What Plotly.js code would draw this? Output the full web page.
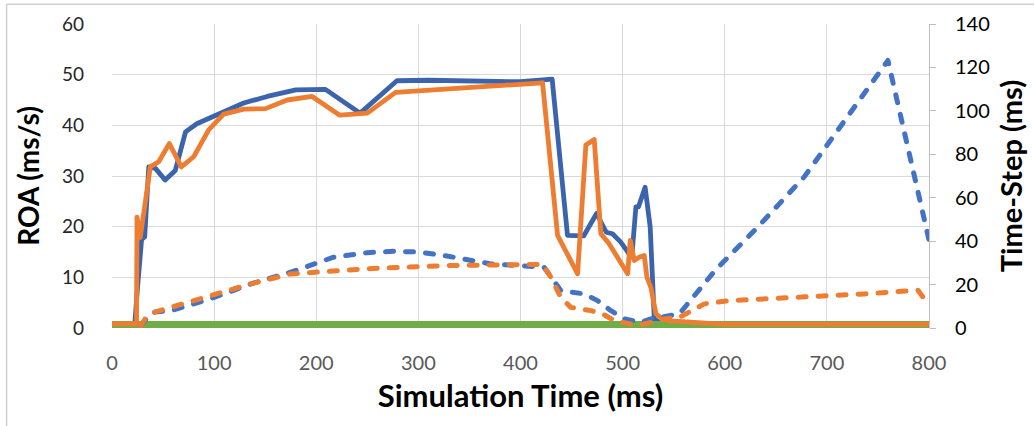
<!DOCTYPE html>
<html><head><meta charset="utf-8">
<script src="https://cdn.plot.ly/plotly-3.0.1.min.js"></script>
<style>
html,body{margin:0;padding:0;background:#fff;}
#chart{width:1034px;height:426px;}
</style></head><body><div id="chart"></div>
<script>
// ROA (left axis, ms/s) - blue solid series
const blueSolidTime = [0, 22, 25, 29, 32, 36, 42.5, 52, 62, 72, 83, 96, 111, 129, 152, 180, 209, 243, 279, 310, 400, 431, 446, 462, 474.5, 484, 490, 498, 506.5, 509, 513, 515.5, 522, 527, 531, 540, 600, 700, 800];
const blueSolidROA  = [0, 0, 8, 17.5, 18, 31.8, 31.5, 29.2, 31.1, 38.7, 40.3, 41.4, 42.9, 44.4, 45.7, 47, 47.1, 42.4, 48.8, 48.9, 48.6, 49.1, 18.3, 18.2, 22.6, 18.9, 18.6, 17, 14.6, 14, 23.9, 23.9, 27.8, 19.9, 1.8, 0.5, 0.5, 0.5, 0.5];

// ROA (left axis, ms/s) - orange solid series
const orangeSolidTime = [0, 24, 24.5, 27.7, 37.5, 45.7, 56.2, 67.9, 80, 94.7, 109.4, 129, 150.3, 171.6, 196, 223, 250, 277.7, 421.6, 436.3, 455.9, 464, 472.2, 478.7, 486.9, 504.9, 507.5, 511.4, 516.5, 521.2, 523.8, 527.7, 532.6, 539, 547.4, 600, 700, 800];
const orangeSolidROA  = [0.8, 0.8, 21.9, 17.9, 31.8, 32.8, 36.4, 31.8, 33.8, 39.1, 42.2, 43.2, 43.3, 45, 45.7, 42, 42.4, 46.5, 48.4, 18.3, 10.7, 36.1, 37.2, 18.6, 16.6, 10.7, 17.3, 13.3, 14, 14.3, 10.0, 8, 2.8, 1.8, 1.4, 0.7, 0.7, 0.7];

// Green reference series (left axis)
const greenTime = [0, 800];
const greenROA  = [0.6, 0.6];

// Time-Step (right axis, ms) - blue dashed series
const blueDashTime = [28, 32.6, 37.5, 42.5, 58.8, 96, 136, 175, 217, 250, 276, 300, 325, 370, 402, 423, 439.5, 452.6, 462.4, 475.5, 488.5, 501.6, 518, 527.7, 555.6, 590.5, 632.4, 677.8, 719.7, 759.8, 800];
const blueDashStep = [1, 4, 6.5, 7.4, 8.1, 13.4, 20.3, 25.7, 32.6, 34.7, 35.3, 35, 33.4, 29.6, 28.5, 28, 17.2, 16.5, 15.7, 12.6, 8, 4.2, 2.6, 4.2, 6.5, 26.5, 46.5, 69.6, 96.6, 123.2, 40.5];

// Time-Step (right axis, ms) - orange dashed series
const orangeDashTime = [28, 32.6, 42.5, 58.8, 78.4, 111, 135.6, 174.8, 217.3, 250, 331.7, 410, 421.6, 429.7, 439.5, 449.3, 468.9, 480.4, 491.8, 508.1, 518, 527.7, 540.8, 555.6, 580, 604.5, 649.9, 702.2, 737.2, 789.2, 794, 800];
const orangeDashStep = [1, 4.3, 7.4, 9.7, 12, 16.6, 20.3, 24.9, 26.5, 27.3, 28.8, 29.6, 29.3, 23.4, 14.1, 9.5, 8, 6.5, 3.4, 1.8, 1.5, 2.6, 4.2, 4.9, 11.1, 12.6, 13.4, 14.9, 15.7, 17.4, 14.3, 10.9];

const FONT = 'Lato, "Open Sans", sans-serif';
const BLUE_DARK = '#3b64ad', BLUE = '#4472c4', ORANGE = '#ed7d31', GREEN = '#70ad47';

const traces = [
  {x: blueSolidTime, y: blueSolidROA, type: 'scatter', mode: 'lines', name: 'ROA 1',
   line: {color: BLUE_DARK, width: 4.8}, yaxis: 'y'},
  {x: greenTime, y: greenROA, type: 'scatter', mode: 'lines', name: 'Reference',
   line: {color: GREEN, width: 8}, yaxis: 'y'},
  {x: orangeSolidTime, y: orangeSolidROA, type: 'scatter', mode: 'lines', name: 'ROA 2',
   line: {color: ORANGE, width: 4.8}, yaxis: 'y'},
  {x: blueDashTime, y: blueDashStep, type: 'scatter', mode: 'lines', name: 'Time-Step 1',
   line: {color: BLUE, width: 5, dash: '8px,12px'}, yaxis: 'y2'},
  {x: orangeDashTime, y: orangeDashStep, type: 'scatter', mode: 'lines', name: 'Time-Step 2',
   line: {color: ORANGE, width: 5, dash: '8px,12px'}, yaxis: 'y2'}
];

const layout = {
  width: 1034, height: 426,
  margin: {l: 112, r: 105, t: 24, b: 98, pad: 0},
  paper_bgcolor: '#ffffff', plot_bgcolor: '#ffffff',
  showlegend: false,
  font: {family: FONT},
  xaxis: {
    range: [0, 800], dtick: 100, tick0: 0,
    showgrid: true, gridcolor: '#d9d9d9', gridwidth: 1,
    zeroline: false, showline: false, ticks: '',
    tickfont: {family: FONT, size: 20, color: '#595959'},
    ticklabelstandoff: 21,
    title: {text: 'Simulation Time (ms)', standoff: 12,
            font: {family: FONT, size: 31, color: '#000000', weight: 'bold'}}
  },
  yaxis: {
    range: [0, 60], dtick: 10, tick0: 0,
    showgrid: true, gridcolor: '#d9d9d9', gridwidth: 1,
    zeroline: false, showline: false, ticks: '',
    tickfont: {family: FONT, size: 19, color: '#262626'},
    ticklabelstandoff: 27,
    title: {text: 'ROA (ms/s)', standoff: 14,
            font: {family: FONT, size: 28, color: '#000000', weight: 'bold'}}
  },
  yaxis2: {
    range: [0, 140], dtick: 20, tick0: 0,
    overlaying: 'y', side: 'right',
    showgrid: false, zeroline: false,
    showline: true, linecolor: '#bfbfbf', linewidth: 1,
    ticks: 'outside', ticklen: 6, tickcolor: '#bfbfbf', tickwidth: 1,
    tickfont: {family: FONT, size: 20, color: '#000000'},
    ticklabelstandoff: 15,
    title: {text: 'Time-Step (ms)', standoff: 12,
            font: {family: FONT, size: 29, color: '#000000', weight: 'bold'}}
  },
  shapes: [
    {type: 'line', xref: 'paper', yref: 'paper', x0: -0.129, x1: 1.2, y0: 1.065, y1: 1.065,
     line: {color: '#d0d0d0', width: 1.5}, layer: 'below'},
    {type: 'line', xref: 'paper', yref: 'paper', x0: -0.129, x1: -0.129, y0: 1.065, y1: -0.4,
     line: {color: '#d0d0d0', width: 1.5}, layer: 'below'}
  ]
};

Plotly.newPlot('chart', traces, layout, {displayModeBar: false, staticPlot: true}).then(function (gd) {
  gd.querySelectorAll('.scatterlayer path.js-line').forEach(function (p) {
    p.style.strokeLinecap = 'round';
    p.style.strokeLinejoin = 'round';
  });
});
</script>
</body></html>
